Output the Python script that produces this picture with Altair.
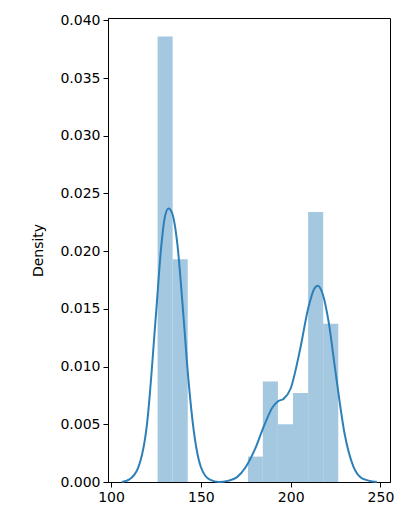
import altair as alt
import pandas as pd

bin_left = [125.9, 134.3, 142.7, 151.0, 159.4, 167.8, 176.2, 184.5, 192.9, 201.3, 209.7, 218.1]
bin_right = [134.3, 142.7, 151.0, 159.4, 167.8, 176.2, 184.5, 192.9, 201.3, 209.7, 218.1, 226.5]
bin_density = [0.0386, 0.0193, 0, 0, 0, 0, 0.0022, 0.0087, 0.0050, 0.0077, 0.0234, 0.0137]

kde_x = [106, 110, 115, 120, 125, 128, 130, 132, 134, 137, 140, 143, 146, 150, 155, 160, 165,
         170, 175, 180, 185, 190, 193, 196, 200, 205, 210, 213, 215, 218, 221, 225, 230, 235, 240, 248]
kde_y = [0.0, 0.0002, 0.0012, 0.0050, 0.0145, 0.0205, 0.0230, 0.0237, 0.0233, 0.0205, 0.0150, 0.0090,
         0.0045, 0.0013, 0.0002, 0.0, 0.0001, 0.0004, 0.0013, 0.0028, 0.0048, 0.0065, 0.0070, 0.0072,
         0.0081, 0.0113, 0.0152, 0.0167, 0.0170, 0.0162, 0.0140, 0.0095, 0.0042, 0.0013, 0.0003, 0.0]

bars_df = pd.DataFrame({"left": bin_left, "right": bin_right, "density": bin_density})
kde_df = pd.DataFrame({"x": kde_x, "y": kde_y})

xs = alt.Scale(domain=[98.3, 255.3], nice=False, zero=False)
ys = alt.Scale(domain=[0, 0.0402], nice=False)
font = "DejaVu Sans"

bars = alt.Chart(bars_df).mark_rect(color="#a5c8e1").encode(
    x=alt.X("left:Q", scale=xs,
            axis=alt.Axis(values=[100, 150, 200, 250], title=None, grid=False, labelFontSize=14,
                          labelFont=font, labelColor="black", domainColor="black", tickColor="black",
                          tickSize=5, labelPadding=3, labelFlush=False)),
    x2="right:Q",
    y=alt.Y("density:Q", scale=ys,
            axis=alt.Axis(values=[0, 0.005, 0.01, 0.015, 0.02, 0.025, 0.03, 0.035, 0.04], format=".3f",
                          title="Density", titleFontWeight="normal", titleFontSize=14, titleFont=font,
                          titleColor="black", grid=False, labelFontSize=14, labelFont=font,
                          labelColor="black", domainColor="black", tickColor="black", tickSize=5,
                          labelPadding=3, titlePadding=14)),
    y2=alt.datum(0),
)

line = alt.Chart(kde_df).mark_line(color="#2d7fb8", strokeWidth=2, interpolate="monotone").encode(
    x=alt.X("x:Q", scale=xs), y=alt.Y("y:Q", scale=ys)
)

chart = (bars + line).properties(
    width=282, height=464, padding={"left": 100, "top": 10, "right": 4, "bottom": 30},
    autosize=alt.AutoSizeParams(type="none"),
).configure_view(stroke="black", strokeWidth=1)

chart.save("out.html", embed_options={"renderer": "svg", "actions": False})
